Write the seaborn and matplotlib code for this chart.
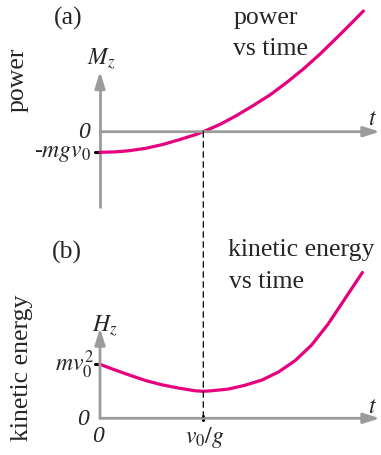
import seaborn as sns
import matplotlib.pyplot as plt
from matplotlib.patches import ConnectionPatch

# --- data (t in units of v0/g) ---
t_power = [0, 0.15, 0.27, 0.44, 0.6, 0.76, 0.92, 1.0, 1.16, 1.32, 1.48,
           1.65, 1.81, 1.97, 2.13, 2.29, 2.45, 2.55]
power = [-1.0, -0.98, -0.93, -0.81, -0.63, -0.40, -0.15, 0, 0.35, 0.78, 1.26,
         1.80, 2.40, 3.05, 3.77, 4.55, 5.35, 5.86]

t_ke = [0, 0.11, 0.27, 0.44, 0.6, 0.76, 0.92, 1.0, 1.08, 1.24, 1.4, 1.57,
        1.73, 1.89, 2.05, 2.21, 2.37, 2.54]
ke = [1.0, 0.92, 0.81, 0.70, 0.62, 0.56, 0.51, 0.50, 0.51, 0.54, 0.61, 0.71,
      0.86, 1.07, 1.36, 1.75, 2.21, 2.70]

sns.set_style("white")
plt.rcParams["font.family"] = ["Liberation Serif", "DejaVu Serif"]
plt.rcParams["mathtext.fontset"] = "stix"

W, H = 381, 455
fig = plt.figure(figsize=(W / 100, H / 100), dpi=100)

GRAY = "#9b9b9b"
MAG = "#e6007e"
FS = 18.5


def fx(x, y):
    return x / W, 1 - y / H


# top panel occupies pixel rows 0..220, bottom 220..455; same t scale
ax1 = fig.add_axes([0, 1 - 220 / H, 1, 220 / H])
ax2 = fig.add_axes([0, 0, 1, 235 / H])
xl = (-100 / 103.3, (381 - 100) / 103.3)
ax1.set_xlim(xl)
ax1.set_ylim((131.7 - 220) / 20.6, 131.7 / 20.6)
ax2.set_xlim(xl)
ax2.set_ylim((418.3 - 455) / 54, (418.3 - 220) / 54)
for ax in (ax1, ax2):
    ax.axis("off")

arrow = dict(arrowstyle="-|>,head_length=0.7,head_width=0.22", color=GRAY,
             lw=2.0, shrinkA=0, shrinkB=0, mutation_scale=14)

# axes of panel (a)
ax1.plot([0, 0], [-3.7, 2.6], color=GRAY, lw=2.0, solid_capstyle="butt")
ax1.annotate("", xy=(0, 2.92), xytext=(0, 2.0), arrowprops=arrow)
ax1.annotate("", xy=(2.71, 0), xytext=(0, 0), arrowprops=arrow)
ax1.plot([-0.05, 0], [-1, -1], color="black", lw=2.2)

# axes of panel (b)
ax2.annotate("", xy=(0, 1.67), xytext=(0, 0), arrowprops=arrow)
ax2.annotate("", xy=(2.71, 0), xytext=(0, 0), arrowprops=arrow)
ax2.plot([-0.05, 0], [1, 1], color="black", lw=2.2)
ax2.plot([1, 1], [-0.04, 0.04], color="black", lw=2.2)

# curves
sns.lineplot(x=t_power, y=power, ax=ax1, color=MAG, lw=2.3)
sns.lineplot(x=t_ke, y=ke, ax=ax2, color=MAG, lw=2.3)

# dashed line at t = v0/g through both panels
con = ConnectionPatch(xyA=(1, 0), coordsA=ax1.transData,
                      xyB=(1, 0), coordsB=ax2.transData,
                      color="black", lw=0.9, linestyle=(0, (4.5, 3.5)))
fig.add_artist(con)

# texts
fig.text(*fx(68, 18), "(a)", fontsize=FS, ha="center", va="center")
fig.text(*fx(67, 252), "(b)", fontsize=FS, ha="center", va="center")
fig.text(*fx(18, 80), "power", fontsize=FS, rotation=90, ha="center", va="center")
fig.text(*fx(22, 368), "kinetic energy", fontsize=FS, rotation=90, ha="center", va="center")
fig.text(*fx(234, 24), "power", fontsize=FS, ha="left", va="baseline")
fig.text(*fx(233, 55), "vs time", fontsize=FS, ha="left", va="baseline")
fig.text(*fx(228, 256), "kinetic energy", fontsize=FS, ha="left", va="baseline")
fig.text(*fx(229, 288), "vs time", fontsize=FS, ha="left", va="baseline")

fig.text(*fx(87, 65), r"$M_z$", fontsize=17, ha="left", va="baseline")
fig.text(*fx(92, 332), r"$H_z$", fontsize=17, ha="left", va="baseline")
fig.text(*fx(90, 138), "0", fontsize=17, style="italic", ha="right", va="baseline")
fig.text(*fx(91, 157), r"-$mgv_0$", fontsize=17, ha="right", va="baseline")
fig.text(*fx(377, 125), r"$t$", fontsize=17, ha="right", va="baseline")
fig.text(*fx(377, 413), r"$t$", fontsize=17, ha="right", va="baseline")
fig.text(*fx(94, 372), r"$mv_0^2$", fontsize=17, ha="right", va="baseline")
fig.text(*fx(89, 425), "0", fontsize=17, style="italic", ha="right", va="baseline")
fig.text(*fx(98, 442), "0", fontsize=17, style="italic", ha="center", va="baseline")
fig.text(*fx(205, 443), r"$v_0/g$", fontsize=17, ha="center", va="baseline")

fig.savefig("out.png", dpi=100)
